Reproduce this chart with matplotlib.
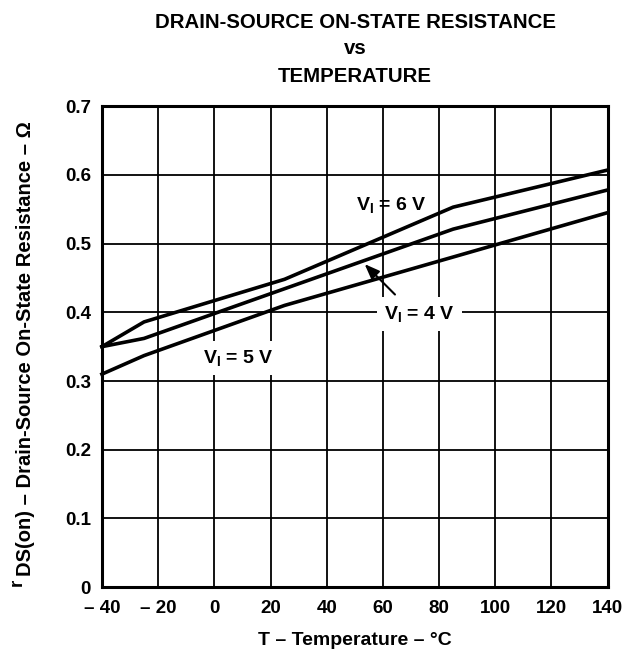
import matplotlib
matplotlib.use("Agg")
import matplotlib.pyplot as plt

plt.rcParams['font.family'] = ['Liberation Sans', 'DejaVu Sans']
plt.rcParams['font.weight'] = 'bold'
plt.rcParams['mathtext.fontset'] = 'custom'
plt.rcParams['mathtext.rm'] = 'Liberation Sans:bold'
plt.rcParams['mathtext.bf'] = 'Liberation Sans:bold'
plt.rcParams['mathtext.it'] = 'Liberation Sans:bold'

# Data (temperature in °C, resistance in ohms)
t_6v = [-40, -25, 25, 85, 140]
r_6v = [0.350, 0.386, 0.448, 0.553, 0.607]
t_4v = [-40, -25, 85, 140]
r_4v = [0.350, 0.362, 0.521, 0.578]
t_5v = [-40, -25, 25, 140]
r_5v = [0.310, 0.337, 0.410, 0.545]

x_ticks = [-40, -20, 0, 20, 40, 60, 80, 100, 120, 140]
x_tick_labels = ['– 40', '– 20', '0', '20', '40', '60', '80', '100', '120', '140']
y_ticks = [0, 0.1, 0.2, 0.3, 0.4, 0.5, 0.6, 0.7]
y_tick_labels = ['0', '0.1', '0.2', '0.3', '0.4', '0.5', '0.6', '0.7']

fig = plt.figure(figsize=(6.33, 6.51), dpi=100)
ax = fig.add_axes([0.161, 0.098, 0.799, 0.739])

ax.set_xlim(-40, 140)
ax.set_ylim(0, 0.7)
ax.set_xticks(x_ticks)
ax.set_xticklabels(x_tick_labels, fontsize=13.5, fontweight='bold')
ax.set_yticks(y_ticks)
ax.set_yticklabels(y_tick_labels, fontsize=13.5, fontweight='bold')
ax.tick_params(axis='x', length=0, pad=9)
ax.tick_params(axis='y', length=0, pad=8)
ax.grid(True, color='black', linewidth=1.3)
for s in ax.spines.values():
    s.set_linewidth(2.2)
    s.set_zorder(5)

for t, r in [(t_6v, r_6v), (t_4v, r_4v), (t_5v, r_5v)]:
    ax.plot(t, r, color='black', linewidth=2.6, solid_joinstyle='miter', zorder=4, clip_on=False)

box = dict(facecolor='white', edgecolor='none', pad=5)
lbl_fs = 14
ax.text(63, 0.556, r'V$_\mathregular{I}$ = 6 V', fontsize=lbl_fs, fontweight='bold',
        ha='center', va='center', zorder=3)
ax.text(73, 0.398, r'V$_\mathregular{I}$ = 4 V', fontsize=lbl_fs, fontweight='bold',
        ha='center', va='center', bbox=box, zorder=3)
ax.text(8.5, 0.333, r'V$_\mathregular{I}$ = 5 V', fontsize=lbl_fs, fontweight='bold',
        ha='center', va='center', bbox=box, zorder=3)
ax.annotate('', xy=(52.8, 0.473), xytext=(65, 0.423),
            arrowprops=dict(arrowstyle='-|>,head_length=0.9,head_width=0.35',
                            color='black', lw=1.5), zorder=4)

ax.set_xlabel('T – Temperature – °C', fontsize=14, fontweight='bold', labelpad=11)

# y label: raised "r" followed by full-size "DS(on) ..."
ylab = fig.text(0.040, 0.465, 'DS(on) – Drain-Source On-State Resistance – Ω',
                rotation=90, ha='center', va='center', fontsize=14.5, fontweight='bold')
fig.canvas.draw()
bb = ylab.get_window_extent()
W, H = fig.get_size_inches() * fig.dpi
fig.text((bb.x0 - 7) / W, (bb.y0 - 3) / H, 'r', rotation=90, ha='left', va='top',
         fontsize=13.5, fontweight='bold')

fig.text(0.561, 0.966, 'DRAIN-SOURCE ON-STATE RESISTANCE', ha='center', va='center',
         fontsize=14.7, fontweight='bold')
fig.text(0.561, 0.925, 'vs', ha='center', va='center', fontsize=14.7, fontweight='bold')
fig.text(0.561, 0.882, 'TEMPERATURE', ha='center', va='center', fontsize=14.7, fontweight='bold')

fig.savefig('out.png', dpi=100)
